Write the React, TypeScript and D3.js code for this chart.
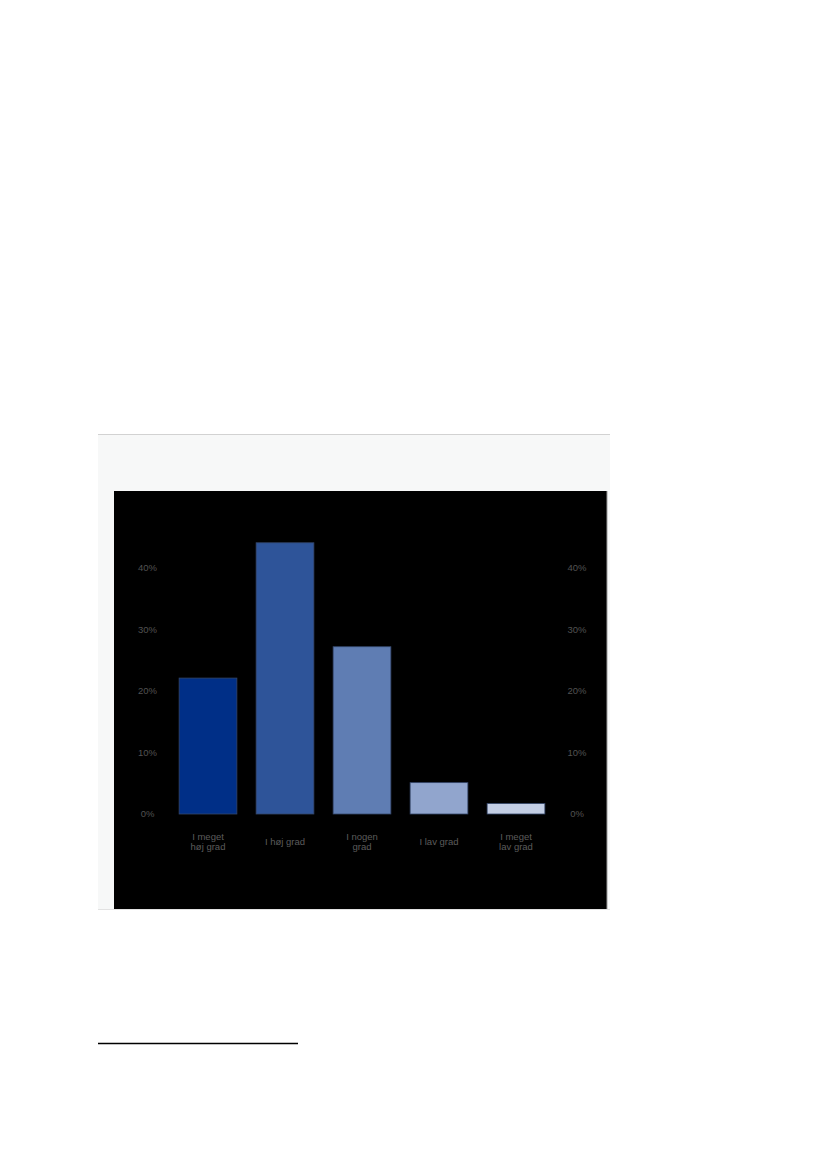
import React from "react";
import * as d3 from "d3";

const categories = ["I meget høj grad", "I høj grad", "I nogen grad", "I lav grad", "I meget lav grad"];
const categoryLines = [["I meget", "høj grad"], ["I høj grad"], ["I nogen", "grad"], ["I lav grad"], ["I meget", "lav grad"]];
const values = [22.1, 44.1, 27.2, 5.1, 1.7];
const barColors = ["#002f87", "#2e5499", "#5f7db3", "#91a5cd", "#c3cee4"];
const yTicks = [0, 10, 20, 30, 40];

const W = 827;
const H = 1169;

const App: React.FC = () => {
  // plot area in page coordinates
  const plot = { left: 169.5, right: 554.5, top: 506, bottom: 814 };

  const x = d3.scaleBand<string>()
    .domain(categories)
    .range([plot.left, plot.right])
    .paddingInner(0.25)
    .paddingOuter(0.125);

  const y = d3.scaleLinear()
    .domain([0, 50])
    .range([plot.bottom, plot.bottom - 6.15 * 50]);

  const font = "'Liberation Sans', Arial, sans-serif";

  return (
    <div style={{ position: "absolute", left: 0, top: 0 }}>
      <svg width={W} height={H} style={{ display: "block", background: "#ffffff" }}>
        {/* outer grey panel */}
        <rect x={98} y={434} width={512} height={475} fill="#f7f8f8" />
        <line x1={98} x2={610} y1={434.5} y2={434.5} stroke="#d2d2d2" strokeWidth={1} />
        <line x1={98} x2={610} y1={909.5} y2={909.5} stroke="#e2e2e2" strokeWidth={1} />

        {/* black chart panel */}
        <rect x={114} y={491} width={493} height={418} fill="#000000" />
        <line x1={607} x2={607} y1={491} y2={909} stroke="#9a9a9a" strokeWidth={1} />

        {/* y tick labels, both sides */}
        {yTicks.map((t) => (
          <g key={t}>
            <text x={147.5} y={y(t)} dy="0.35em" textAnchor="middle" fontFamily={font} fontSize={9.5} fill="#525252">
              {t}%
            </text>
            <text x={577} y={y(t)} dy="0.35em" textAnchor="middle" fontFamily={font} fontSize={9.5} fill="#525252">
              {t}%
            </text>
          </g>
        ))}

        {/* bars */}
        {categories.map((c, i) => (
          <rect
            key={c}
            x={x(c)}
            y={y(values[i])}
            width={x.bandwidth()}
            height={y(0) - y(values[i])}
            fill={barColors[i]}
            stroke="#34466a"
            strokeWidth={0.8}
          />
        ))}

        {/* category labels */}
        {categories.map((c, i) => {
          const lines = categoryLines[i];
          const cx = (x(c) ?? 0) + x.bandwidth() / 2;
          const startY = lines.length === 1 ? 842 : 837;
          return (
            <text key={c} x={cx} textAnchor="middle" fontFamily={font} fontSize={9.5} fill="#5c5c5c">
              {lines.map((l, j) => (
                <tspan key={j} x={cx} y={startY + j * 10} dy="0.35em">
                  {l}
                </tspan>
              ))}
            </text>
          );
        })}

        {/* footnote rule */}
        <line x1={98} x2={298} y1={1043.5} y2={1043.5} stroke="#000000" strokeWidth={1.4} />
      </svg>
    </div>
  );
};

export default App;
